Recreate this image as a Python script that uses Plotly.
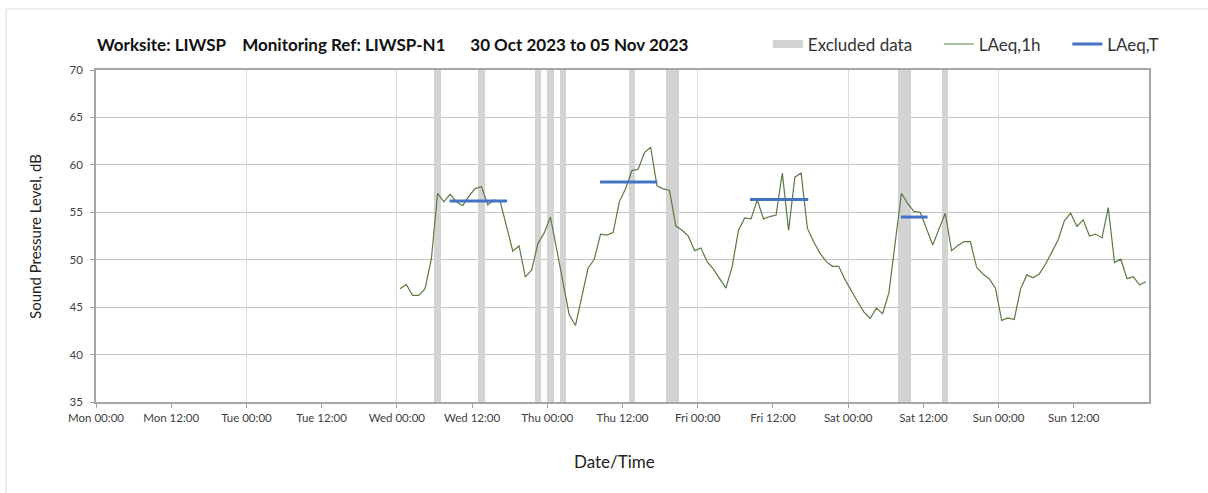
import plotly.graph_objects as go
from datetime import datetime, timedelta

# ---- data ----
series_start = "2023-11-01 00:30"   # first hourly point (plotted mid-hour)
laeq_1h = [
    46.95, 47.4, 46.25, 46.25, 46.95, 50.05, 57.0, 56.1, 56.9, 56.1,
    55.7, 56.7, 57.5, 57.7, 55.8, 56.3, 56.1, 53.5, 50.9, 51.45,
    48.2, 48.9, 51.7, 52.8, 54.5, 51.1, 47.6, 44.2, 43.06, 46.1,
    49.1, 50.05, 52.7, 52.6, 52.86, 56.13, 57.5, 59.4, 59.54, 61.3,
    61.85, 57.8, 57.47, 57.3, 53.57, 53.1, 52.5, 50.96, 51.24, 49.8,
    49.0, 48.0, 47.0, 49.3, 53.1, 54.4, 54.3, 56.3, 54.3, 54.55,
    54.7, 59.13, 53.1, 58.7, 59.13, 53.3, 51.9, 50.7, 49.8, 49.3,
    49.3, 47.9, 46.7, 45.6, 44.5, 43.8, 44.9, 44.3, 46.5, 51.5,
    57.0, 55.9, 55.1, 55.0, 53.3, 51.56, 53.25, 54.9, 50.96, 51.5,
    51.9, 51.9, 49.2, 48.5, 48.0, 47.0, 43.6, 43.87, 43.7, 46.9,
    48.4, 48.1, 48.5, 49.55, 50.8, 52.1, 54.1, 54.9, 53.5, 54.2,
    52.5, 52.7, 52.3, 55.5, 49.7, 50.05, 48.0, 48.2, 47.35, 47.67,
]

laeq_t_start = ["2023-11-01 08:25", "2023-11-02 08:25", "2023-11-03 08:20", "2023-11-04 08:25"]
laeq_t_end = ["2023-11-01 17:35", "2023-11-02 17:33", "2023-11-03 17:38", "2023-11-04 12:40"]
laeq_t_value = [56.2, 58.2, 56.35, 54.5]

excluded_start = ["2023-11-01 06:00", "2023-11-01 13:00", "2023-11-01 22:00", "2023-11-02 00:00",
                  "2023-11-02 02:00", "2023-11-02 13:00", "2023-11-02 19:00", "2023-11-04 08:00",
                  "2023-11-04 15:00"]
excluded_end = ["2023-11-01 07:00", "2023-11-01 14:00", "2023-11-01 23:00", "2023-11-02 01:00",
                "2023-11-02 03:00", "2023-11-02 14:00", "2023-11-02 21:00", "2023-11-04 10:00",
                "2023-11-04 16:00"]

tick_vals = ["2023-10-30 00:00", "2023-10-30 12:00", "2023-10-31 00:00", "2023-10-31 12:00",
             "2023-11-01 00:00", "2023-11-01 12:00", "2023-11-02 00:00", "2023-11-02 12:00",
             "2023-11-03 00:00", "2023-11-03 12:00", "2023-11-04 00:00", "2023-11-04 12:00",
             "2023-11-05 00:00", "2023-11-05 12:00"]
tick_text = ["Mon 00:00", "Mon 12:00", "Tue 00:00", "Tue 12:00", "Wed 00:00", "Wed 12:00",
             "Thu 00:00", "Thu 12:00", "Fri 00:00", "Fri 12:00", "Sat 00:00", "Sat 12:00",
             "Sun 00:00", "Sun 12:00"]
grid_vals = ["2023-10-30 00:00", "2023-10-31 00:00", "2023-11-01 00:00", "2023-11-02 00:00",
             "2023-11-03 00:00", "2023-11-04 00:00", "2023-11-05 00:00", "2023-11-06 00:00"]
x_range = ["2023-10-30 00:00", "2023-11-06 00:00"]
y_range = [35, 70]

title_text = "Worksite: LIWSP\u00a0\u00a0\u00a0 Monitoring Ref: LIWSP-N1\u00a0\u00a0\u00a0\u00a0\u00a0 30 Oct 2023 to 05 Nov 2023"
legend_names = ["Excluded data", "LAeq,1h", "LAeq,T"]

# ---- derived ----
fmt = "%Y-%m-%d %H:%M"
t0 = datetime.strptime(series_start, fmt)
times = [t0 + timedelta(hours=i) for i in range(len(laeq_1h))]

ex_s = [datetime.strptime(s, fmt) for s in excluded_start]
ex_e = [datetime.strptime(s, fmt) for s in excluded_end]
ex_center = [s + (e - s) / 2 for s, e in zip(ex_s, ex_e)]
ex_width = [(e - s).total_seconds() * 1000 for s, e in zip(ex_s, ex_e)]

lt_x, lt_y = [], []
for s, e, v in zip(laeq_t_start, laeq_t_end, laeq_t_value):
    lt_x += [s, e, None]
    lt_y += [v, v, None]

FONT = "Lato"
GREY_BAND = "#d3d3d3"
PAD = "\u00a0" * 5

fig = go.Figure()
fig.add_trace(go.Bar(
    x=ex_center, y=[y_range[1] - y_range[0]] * len(ex_center), base=y_range[0],
    width=ex_width, marker=dict(color=GREY_BAND, line=dict(width=0)),
    showlegend=False, hoverinfo="skip"))
# legend swatch for excluded data
fig.add_trace(go.Scatter(x=[None], y=[None], mode="lines", name=legend_names[0] + PAD,
                         line=dict(color=GREY_BAND, width=8)))
fig.add_trace(go.Scatter(x=times, y=laeq_1h, mode="lines", name=legend_names[1] + PAD,
                         line=dict(color="#5b7b44", width=1.2)))
fig.add_trace(go.Scatter(x=lt_x, y=lt_y, mode="lines", name=legend_names[2],
                         line=dict(color="#4472c4", width=3)))
# dummy trace to activate the gridline overlay axis
fig.add_trace(go.Scatter(x=[x_range[0]], y=[None], xaxis="x2", showlegend=False,
                         hoverinfo="skip", mode="lines"))

fig.update_layout(
    width=1208, height=493,
    margin=dict(l=96, r=59, t=70, b=91),
    paper_bgcolor="white", plot_bgcolor="white",
    font=dict(family=FONT, color="#404040", size=11),
    bargap=0,
    showlegend=True,
    legend=dict(orientation="h", x=0.638, xanchor="left", y=1.077, yanchor="middle",
                font=dict(family=FONT, size=17, color="#333333"),
                bgcolor="rgba(0,0,0,0)", itemwidth=30, tracegroupgap=0),
    xaxis=dict(type="date", range=x_range, tickvals=tick_vals, ticktext=tick_text,
               showgrid=False, ticks="outside", ticklen=4, tickcolor="#a0a0a0",
               showline=True, linecolor="#a6a6a6", linewidth=1.5, mirror=True,
               tickfont=dict(family=FONT, size=11.5, color="#404040"), zeroline=False),
    xaxis2=dict(type="date", range=x_range, overlaying="x", tickvals=grid_vals,
                showticklabels=False, showgrid=True, gridcolor="#d9d9d9", gridwidth=1,
                ticks="", showline=False, zeroline=False),
    yaxis=dict(range=y_range, dtick=5, tick0=35, showgrid=True, gridcolor="#c4c4c4",
               gridwidth=1, ticks="outside", ticklen=4, tickcolor="#a0a0a0",
               showline=True, linecolor="#a6a6a6", linewidth=1.5, mirror=True,
               ticklabelstandoff=5,
               tickfont=dict(family=FONT, size=11.5, color="#404040"), zeroline=False),
)

fig.add_annotation(text="<b>" + title_text + "</b>", xref="paper", yref="paper",
                   x=-0.001, y=1.078, xanchor="left", yanchor="middle", showarrow=False,
                   font=dict(family=FONT, size=17, color="#111111"))
fig.add_annotation(text="Sound Pressure Level, dB", xref="paper", yref="paper",
                   x=-0.058, y=0.5, xanchor="center", yanchor="middle", textangle=-90,
                   showarrow=False, font=dict(family=FONT, size=15, color="#222222"))
fig.add_annotation(text="Date/Time", xref="paper", yref="paper",
                   x=0.4925, y=-0.18, xanchor="center", yanchor="middle",
                   showarrow=False, font=dict(family=FONT, size=17, color="#222222"))

# outer chart frame (left and top edges visible)
fig.add_shape(type="rect", xref="paper", yref="paper",
              x0=-0.0854, y0=-0.5, x1=1.2, y1=1.1837,
              line=dict(color="#d9d9d9", width=1), fillcolor="rgba(0,0,0,0)", layer="below")

fig.write_html("out.html", config={"displayModeBar": False},
               post_script="document.body.style.margin='0';")
